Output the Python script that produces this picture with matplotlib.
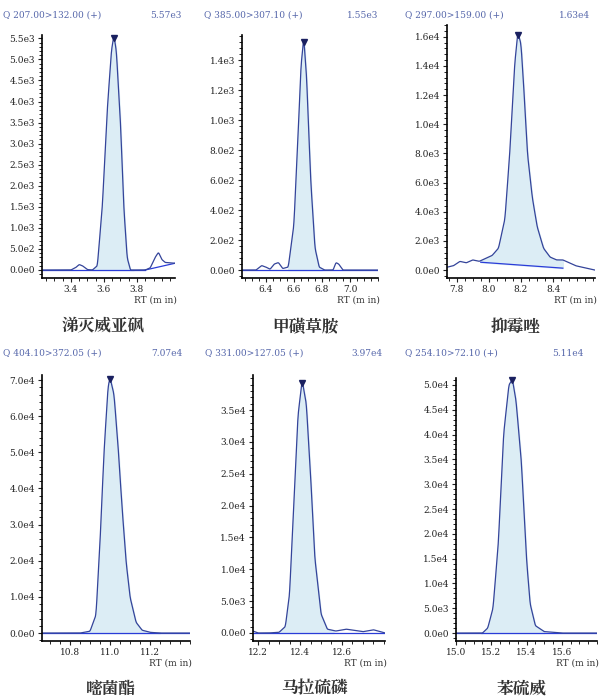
import matplotlib
matplotlib.use("Agg")
import matplotlib.pyplot as plt
from matplotlib import font_manager
from matplotlib.ticker import AutoMinorLocator
import numpy as np

names = ["涕灭威亚砜", "甲磺草胺", "抑霉唑", "嘧菌酯", "马拉硫磷", "苯硫威"]
transitions = ["Q 207.00>132.00 (+)", "Q 385.00>307.10 (+)", "Q 297.00>159.00 (+)",
               "Q 404.10>372.05 (+)", "Q 331.00>127.05 (+)", "Q 254.10>72.10 (+)"]
maxlabels = ["5.57e3", "1.55e3", "1.63e4", "7.07e4", "3.97e4", "5.11e4"]

x1 = [3.23,3.40,3.43,3.45,3.47,3.50,3.53,3.56,3.59,3.62,3.645,3.66,3.675,3.70,3.72,3.74,3.76,3.80,3.85,3.88,3.91,3.93,3.95,3.97,4.03]
y1 = [0,0,60,130,100,10,0,100,1500,3800,5200,5570,5200,3500,1500,300,0,0,0,50,300,420,250,180,160]
x2 = [6.23,6.33,6.37,6.40,6.43,6.46,6.49,6.52,6.56,6.60,6.63,6.65,6.67,6.69,6.72,6.75,6.78,6.82,6.88,6.90,6.92,6.95,7.2]
y2 = [0,0,30,20,5,40,50,10,20,300,900,1350,1550,1300,600,150,20,0,0,50,40,0,0]
x3 = [7.74,7.78,7.82,7.86,7.90,7.94,7.98,8.02,8.06,8.10,8.13,8.16,8.18,8.20,8.22,8.24,8.27,8.30,8.34,8.38,8.42,8.46,8.50,8.54,8.58,8.62,8.66]
y3 = [200,300,600,500,700,600,800,1000,1500,3500,8000,14000,16300,15500,12000,8000,5000,3000,1500,900,700,700,500,300,200,100,0]
x4 = [10.66,10.85,10.90,10.93,10.95,10.97,10.99,11.00,11.02,11.04,11.06,11.08,11.10,11.13,11.16,11.20,11.25,11.40]
y4 = [0,0,500,5000,25000,50000,68000,70700,66000,52000,35000,20000,10000,3000,800,200,0,0]
x5 = [12.176,12.20,12.25,12.30,12.33,12.35,12.37,12.39,12.41,12.43,12.45,12.47,12.50,12.53,12.57,12.62,12.70,12.75,12.805]
y5 = [300,0,0,100,1000,6000,20000,34000,39700,36000,25000,12000,3000,600,300,600,200,500,0]
x6 = [15.0,15.15,15.18,15.21,15.24,15.27,15.30,15.32,15.34,15.37,15.40,15.42,15.45,15.50,15.60,15.80]
y6 = [0,0,1000,5000,18000,40000,50000,51100,47000,35000,15000,6000,1500,300,0,0]

peak_win = [(3.53,3.78),(6.56,6.80),(7.95,8.46),(10.88,11.25),(12.30,12.56),(15.14,15.50)]
base3 = (7.95,540,8.46,135)

xticks = [[3.4,3.6,3.8],[6.4,6.6,6.8,7.0],[7.8,8.0,8.2,8.4],[10.8,11.0,11.2],[12.2,12.4,12.6],[15.0,15.2,15.4,15.6]]
yticks = [np.arange(0,5.6e3,5e2), np.arange(0,1.41e3,2e2), np.arange(0,1.61e4,2e3),
          np.arange(0,7.01e4,1e4), np.arange(0,3.51e4,5e3), np.arange(0,5.01e4,5e3)]
xlims = [(3.225,4.03),(6.23,7.2),(7.74,8.66),(10.66,11.4),(12.176,12.805),(15.0,15.8)]
ylims = [(-190,5580),(-53,1567),(-540,16800),(-2200,71400),(-1260,40500),(-1600,51400)]
boxes = [(42,175,35,278),(242,378,35,278),(447,595,25,278),(42,190,375,641),(253,385,375,641),(456,597,378,641)]

cjk = None
for f in font_manager.findSystemFonts():
    if "CJK" in f and ("SC" in f or "Regular" in f or f.endswith(".ttc")):
        cjk = f
        break
cjk_prop = font_manager.FontProperties(fname=cjk, size=12) if cjk else font_manager.FontProperties(family="Noto Sans CJK SC", size=12)

def fmt(v):
    if v == 0:
        return "0.0e0"
    e = int(np.floor(np.log10(abs(v))))
    return f"{v/10**e:.1f}e{e}"

W, H = 601, 700
fig = plt.figure(figsize=(W/100, H/100), dpi=100)
xs = [x1,x2,x3,x4,x5,x6]
ys = [y1,y2,y3,y4,y5,y6]
lc = "#34449a"
tc = "#5566aa"
for i in range(6):
    l, r, t, b = boxes[i]
    ax = fig.add_axes([l/W, 1-b/H, (r-l)/W, (b-t)/H])
    x = np.array(xs[i]); y = np.array(ys[i])
    xx = np.linspace(x[0], x[-1], 800)
    yy = np.interp(xx, x, y)
    k = 9
    ker = np.ones(k)/k
    yp = np.pad(yy, k//2, mode="edge")
    yy = np.convolve(yp, ker, mode="valid")
    a, bnd = peak_win[i]
    m = (xx >= a) & (xx <= bnd)
    if i == 2:
        bx0, by0, bx1, by1 = base3
        bl = np.interp(xx, [bx0, bx1], [by0, by1])
        ax.fill_between(xx[m], bl[m], yy[m], color="#dcedf5")
        ax.plot([bx0, bx1], [by0, by1], color="#2a3cd8", lw=0.9)
    else:
        ax.fill_between(xx[m], 0, yy[m], color="#dcedf5")
        ax.plot([xlims[i][0], xlims[i][1] if i != 0 else 3.85], [0, 0], color="#2a3cd8", lw=0.9)
        if i == 0:
            ax.plot([3.85, 4.03], [0, 160], color="#2a3cd8", lw=0.9)
    ax.plot(xx, yy, color=lc, lw=0.9)
    j = int(np.argmax(yy))
    ax.plot([xx[j]], [yy[j]], marker="v", color="#1a2060", ms=4, clip_on=False)
    ax.set_xlim(*xlims[i]); ax.set_ylim(*ylims[i])
    ax.set_xticks(xticks[i]); ax.set_yticks(yticks[i])
    ax.set_yticklabels([fmt(v) for v in yticks[i]])
    ax.xaxis.set_minor_locator(AutoMinorLocator(4))
    ax.yaxis.set_minor_locator(AutoMinorLocator(5))
    for s in ["top", "right"]:
        ax.spines[s].set_visible(False)
    for s in ["left", "bottom"]:
        ax.spines[s].set_linewidth(1.2)
    ax.tick_params(labelsize=6.5, length=3, width=0.8, direction="out", pad=2, labelfontfamily="DejaVu Serif", colors="#222222")
    ax.tick_params(which="minor", length=2, width=0.6)
    ax.patch.set_alpha(0)
    fig.text((r+2)/W, 1-(b+18)/H, "RT (m in)", ha="right", va="top", fontsize=6.5, family="DejaVu Serif", color="#333333")
    xleft = [3, 204, 405, 3, 205, 405][i]
    xright = [182, 378, 590, 182, 383, 584][i]
    ytop = 15 if i < 3 else 353
    fig.text(xleft/W, 1-ytop/H, transitions[i], ha="left", va="center", fontsize=6.5, family="DejaVu Serif", color=tc)
    fig.text(xright/W, 1-ytop/H, maxlabels[i], ha="right", va="center", fontsize=6.5, family="DejaVu Serif", color=tc)
    fig.text(((l+r)/2 - 5)/W, 1-((327 if i < 3 else 689))/H, names[i], ha="center", va="center",
             fontproperties=cjk_prop, color="#333333")

fig.savefig("out.png", dpi=100)
